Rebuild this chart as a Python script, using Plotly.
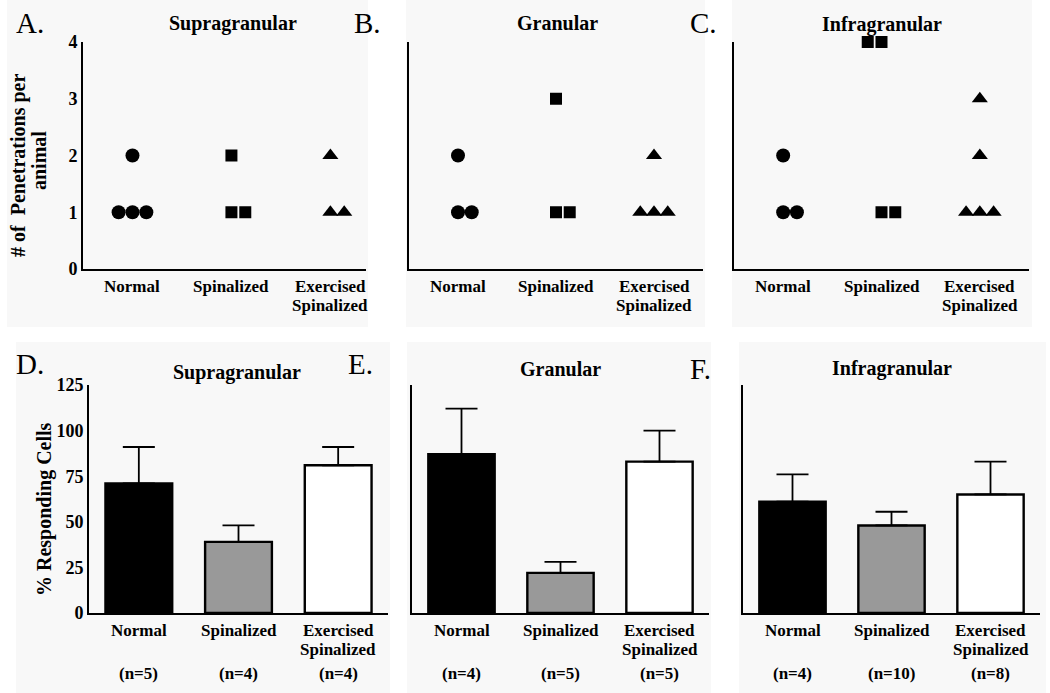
import plotly.graph_objects as go

W, H = 1050, 693

# ---------------- data ----------------
categories = ["Normal", "Spinalized", "Exercised<br>Spinalized"]
layers = ["Supragranular", "Granular", "Infragranular"]

# penetrations per animal (top row)
sup_normal = [1, 1, 1, 2]
sup_spinal = [1, 1, 2]
sup_exerc = [1, 1, 2]
gran_normal = [1, 1, 2]
gran_spinal = [1, 1, 3]
gran_exerc = [1, 1, 1, 2]
inf_normal = [1, 1, 2]
inf_spinal = [1, 1, 4, 4]
inf_exerc = [1, 1, 1, 2, 3]

# % responding cells (bottom row): means and upper error
resp_sup = [71, 39, 81]
err_sup = [20, 9, 10]
resp_gran = [87, 22, 83]
err_gran = [25, 6, 17]
resp_inf = [61, 48, 65]
err_inf = [15, 7.5, 18]

pen_yticks = [0, 1, 2, 3, 4]
resp_yticks = [0, 25, 50, 75, 100, 125]

# side-by-side slot of each dot (layout helper, not data)
slots = {
    "sup": [[-1, 0, 1, 0], [0, 1, 0], [0, 1, 0]],
    "gran": [[0, 1, 0], [0, 1, 0], [-1, 0, 1, 0]],
    "inf": [[0, 1, 0], [0, 1, -1, 0], [-1, 0, 1, 0, 0]],
}

# --------------- layout helpers ---------------
def px_x(p):
    return p / W

def px_y(p):
    return 1 - p / H

FONT = "Liberation Serif"
fig = go.Figure()

top_dom = [(83, 366), (409, 703), (734, 1029)]
top_y = (42, 269)
bot_dom = [(89, 388), (412, 709), (743, 1040)]
bot_y = (385, 613)

# faint panel backgrounds
panel_bgs = [(7, 0, 368, 327), (406, 0, 705, 327), (732, 0, 1032, 327),
             (16, 342, 390, 693), (407, 342, 711, 693), (739, 342, 1046, 693)]
for (x0, y0, x1, y1) in panel_bgs:
    fig.add_shape(type="rect", xref="paper", yref="paper",
                  x0=px_x(x0), x1=px_x(x1), y0=px_y(y1), y1=px_y(y0),
                  fillcolor="#f8f8f8", line_width=0, layer="below")

top_groups = [
    ("sup", [sup_normal, sup_spinal, sup_exerc]),
    ("gran", [gran_normal, gran_spinal, gran_exerc]),
    ("inf", [inf_normal, inf_spinal, inf_exerc]),
]
symbols = ["circle", "square", "triangle-up"]
sizes = [14, 12, 14]
dot_step = 0.14

for i, (key, groups) in enumerate(top_groups):
    ax = i + 1
    xa = "x" if ax == 1 else f"x{ax}"
    ya = "y" if ax == 1 else f"y{ax}"
    for c, vals in enumerate(groups):
        xs = [c + s * dot_step for s in slots[key][c]]
        fig.add_trace(go.Scatter(
            x=xs, y=vals, mode="markers", xaxis=xa, yaxis=ya,
            marker=dict(symbol=symbols[c], size=sizes[c], color="black",
                        line=dict(width=0)),
            cliponaxis=False, showlegend=False, hoverinfo="skip"))

bar_sets = [(resp_sup, err_sup), (resp_gran, err_gran), (resp_inf, err_inf)]
bar_colors = ["black", "#999999", "white"]
for i, (vals, errs) in enumerate(bar_sets):
    ax = i + 4
    fig.add_trace(go.Bar(
        x=list(range(len(categories))), y=vals, xaxis=f"x{ax}", yaxis=f"y{ax}",
        width=0.67,
        marker=dict(color=bar_colors, line=dict(color="black", width=2.4)),
        error_y=dict(type="data", symmetric=False, array=errs,
                     arrayminus=[0] * len(errs), color="black",
                     thickness=1.8, width=16),
        showlegend=False, hoverinfo="skip"))

tickfont = dict(family=FONT, size=18, color="black", weight="bold")

def axis_common():
    return dict(showline=True, linecolor="black", linewidth=2,
                showgrid=False, zeroline=False, ticks="", fixedrange=True,
                automargin=False)

layout = dict(
    width=W, height=H,
    margin=dict(l=0, r=0, t=0, b=0, pad=0, autoexpand=False),
    paper_bgcolor="white", plot_bgcolor="rgba(0,0,0,0)",
    showlegend=False,
)

for i in range(3):
    n = i + 1
    xk = "xaxis" if n == 1 else f"xaxis{n}"
    yk = "yaxis" if n == 1 else f"yaxis{n}"
    xa = "x" if n == 1 else f"x{n}"
    ya = "y" if n == 1 else f"y{n}"
    rng_right = 2.36 if i == 0 else 2.5
    layout[xk] = dict(axis_common(), domain=[px_x(top_dom[i][0]), px_x(top_dom[i][1])],
                      range=[-0.5, rng_right], anchor=ya,
                      tickmode="array", tickvals=[0, 1, 2], ticktext=categories,
                      showticklabels=False)
    layout[yk] = dict(axis_common(), domain=[px_y(top_y[1]), px_y(top_y[0])],
                      range=[0, 4], anchor=xa,
                      tickmode="array", tickvals=pen_yticks,
                      ticktext=[str(v) for v in pen_yticks],
                      showticklabels=(i == 0), tickfont=tickfont,
                      ticklabelstandoff=0)

for i in range(3):
    n = i + 4
    layout[f"xaxis{n}"] = dict(axis_common(), domain=[px_x(bot_dom[i][0]), px_x(bot_dom[i][1])],
                               range=[-0.5, 2.5], anchor=f"y{n}",
                               tickmode="array", tickvals=[0, 1, 2], ticktext=categories,
                               showticklabels=False)
    layout[f"yaxis{n}"] = dict(axis_common(), domain=[px_y(bot_y[1]), px_y(bot_y[0])],
                               range=[0, 125], anchor=f"x{n}",
                               tickmode="array", tickvals=resp_yticks,
                               ticktext=[str(v) for v in resp_yticks],
                               showticklabels=(i == 0), tickfont=tickfont,
                               ticklabelstandoff=0)

fig.update_layout(**layout)

annotations = []

def ann(text, x, y, size, bold=True, xanchor="center", angle=0):
    annotations.append(dict(
        text=text, x=px_x(x), y=px_y(y), xref="paper", yref="paper",
        xanchor=xanchor, yanchor="middle", showarrow=False, textangle=angle,
        font=dict(family=FONT, size=size, color="black",
                  weight="bold" if bold else "normal")))

def ann_axis(text, xaxis_ref, c, y, size=17):
    annotations.append(dict(
        text=text, x=c, y=px_y(y), xref=xaxis_ref, yref="paper",
        xanchor="center", yanchor="middle", showarrow=False,
        font=dict(family=FONT, size=size, color="black", weight="bold")))

# panel titles
top_title_pos = [(233, 23), (557, 23), (882, 25)]
bot_title_pos = [(237, 372), (560, 369), (892, 369)]
for name, (x, y) in zip(layers, top_title_pos):
    ann(name, x, y, 20)
for name, (x, y) in zip(layers, bot_title_pos):
    ann(name, x, y, 20)

# panel letters
letters = [("A.", 14, 23), ("B.", 352, 23), ("C.", 688, 23),
           ("D.", 14, 364), ("E.", 346, 364), ("F.", 688, 369)]
for t, x, y in letters:
    ann(t, x, y, 29, bold=False, xanchor="left")

# y-axis titles
ann("# of  Penetrations per", 19, 166, 20, angle=-90)
ann("animal", 39, 161, 20, angle=-90)
ann("% Responding Cells", 44, 509, 20, angle=-90)

# category labels (two-line labels with tight leading)
xrefs_top = ["x", "x2", "x3"]
xrefs_bot = ["x4", "x5", "x6"]
for xr_list, (y1, y2) in [(xrefs_top, (286, 305)), (xrefs_bot, (630, 649))]:
    for xr in xr_list:
        for c, lab in enumerate(categories):
            parts = lab.split("<br>")
            ann_axis(parts[0], xr, c, y1)
            if len(parts) > 1:
                ann_axis(parts[1], xr, c, y2)

# n labels under bottom panels (n = total penetrations per group)
n_groups = [[sup_normal, sup_spinal, sup_exerc],
            [gran_normal, gran_spinal, gran_exerc],
            [inf_normal, inf_spinal, inf_exerc]]
for i, groups in enumerate(n_groups):
    for c, vals in enumerate(groups):
        ann_axis(f"(n={sum(vals)})", xrefs_bot[i], c, 673)

fig.update_layout(annotations=annotations)
fig.write_html("out.html", config={"displayModeBar": False},
               post_script="document.body.style.margin='0';document.body.style.padding='0';")
